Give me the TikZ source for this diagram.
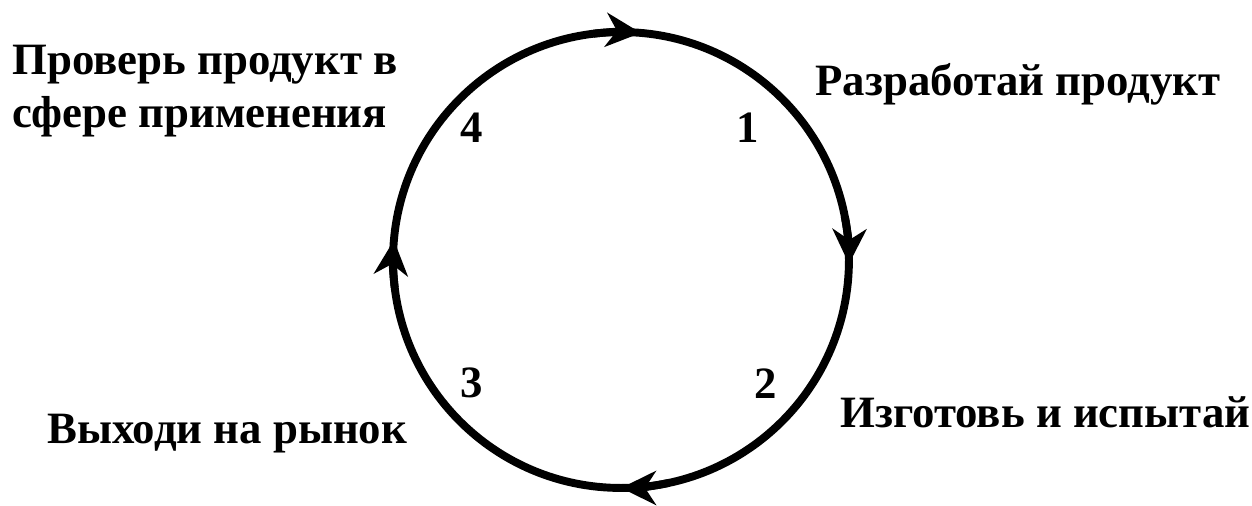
\documentclass[tikz,border=0pt]{standalone}
\usepackage{fontspec}
\setmainfont{Liberation Serif}
\usetikzlibrary{arrows.meta,positioning}

\begin{document}
\begin{tikzpicture}[
    x=0.02cm, y=0.02cm,
    every node/.style={font=\bfseries\fontsize{25.5}{28}\selectfont, inner sep=0pt},
    stagelabel/.style={anchor=base west, align=left},
    stagenum/.style={anchor=center},
    cycleline/.style={line width=4.5pt},
    cyclearrow/.style={cycleline, -{Stealth[length=0.7cm, width=0.68cm, inset=0.22cm]}}
]
\useasboundingbox (0,0) rectangle (1252,505);

% Circle centre and points just before the arrow tips
\coordinate (c) at (621,245);
\path (c) ++(187:4.56cm) coordinate (pL);
\path (c) ++(97:4.56cm) coordinate (pT);
\path (c) ++(11:4.56cm) coordinate (pR);
\path (c) ++(-78:4.56cm) coordinate (pB);

% Cycle
\draw[cycleline] (c) circle[radius=4.56cm];
\draw[cyclearrow] (pL) arc[start angle=187, end angle=175, radius=4.56cm];
\draw[cyclearrow] (pT) arc[start angle=97, end angle=85, radius=4.56cm];
\draw[cyclearrow] (pR) arc[start angle=11, end angle=-1, radius=4.56cm];
\draw[cyclearrow] (pB) arc[start angle=-78, end angle=-90, radius=4.56cm];

% Stage numbers
\node[stagenum] (n1) at (748,377) {1};
\node[stagenum] (n2) at (766,121) {2};
\node[stagenum] (n3) at (472,122) {3};
\node[stagenum] (n4) at (472,377) {4};

% Stage labels
\node[stagelabel] (design) at (815,410) {Разработай продукт};
\node[stagelabel] (make) at (840,78) {Изготовь и испытай};
\node[stagelabel] (market) at (47,62) {Выходи на рынок};
\node[stagelabel] (check) at (12,378) {Проверь продукт в\\[2pt] сфере применения};

\end{tikzpicture}
\end{document}
